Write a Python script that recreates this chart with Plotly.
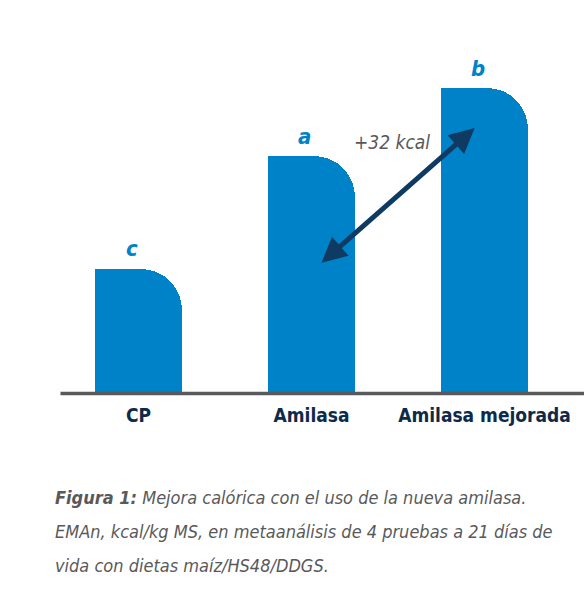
import plotly.graph_objects as go

categories = ["CP", "Amilasa", "Amilasa mejorada"]
values = [3158, 3211, 3243]          # EMAn, kcal/kg MS (estimated)
letters = ["c", "a", "b"]
base_value = 3100                     # value at the chart's baseline
diff_label = "+32 kcal"
caption_lines = [
    "<b>Figura 1:</b> Mejora calórica con el uso de la nueva amilasa.",
    "EMAn, kcal/kg MS, en metaanálisis de 4 pruebas a 21 días de",
    "vida con dietas maíz/HS48/DDGS.",
]

BLUE = "#0082C8"
NAVY = "#0F3A62"
GRAY = "#58595B"
FONT = "DejaVu Sans Condensed, Liberation Sans Narrow, sans-serif"

heights = [v - base_value for v in values]
xs = list(range(len(categories)))

fig = go.Figure()
# rounded bars
fig.add_trace(go.Bar(
    x=xs, y=heights, width=0.5,
    marker=dict(color=BLUE, line=dict(width=0), cornerradius=41),
    hoverinfo="skip", showlegend=False,
))
# square off the top-left corner
fig.add_trace(go.Bar(
    x=xs, y=heights, width=0.26, offset=-0.25,
    marker=dict(color=BLUE, line=dict(width=0)),
    hoverinfo="skip", showlegend=False,
))

annotations = []
for i, (h, l) in enumerate(zip(heights, letters)):
    annotations.append(dict(
        x=i - 0.04, y=h, xref="x", yref="y", text=f"<b><i>{l}</i></b>",
        showarrow=False, yshift=20, font=dict(family=FONT, size=22, color=BLUE),
    ))

# double arrow between Amilasa and Amilasa mejorada
annotations.append(dict(
    x=1.943, y=124.2, ax=1.049, ay=60.2, xref="x", yref="y", axref="x", ayref="y",
    text="", showarrow=True, arrowhead=2, startarrowhead=2, arrowside="end+start",
    arrowsize=1.0, startarrowsize=1.0, arrowwidth=5, arrowcolor=NAVY,
    standoff=0, startstandoff=0,
))
annotations.append(dict(
    x=1.464, y=117.5, xref="x", yref="y", text=f"<i>{diff_label}</i>", showarrow=False,
    font=dict(family=FONT, size=19, color=GRAY),
))

H, T, B, L, R = 604, 40, 212, 51.5, 13
plot_h = H - T - B
plot_w = 584 - L - R
cap_y = [497, 531, 565]
for k, line in enumerate(caption_lines):
    annotations.append(dict(
        x=(53 - L) / plot_w, y=(H - B - cap_y[k]) / plot_h, xref="paper", yref="paper",
        text=f"<i>{line}</i>", showarrow=False, xanchor="left", yanchor="middle",
        font=dict(family=FONT, size=18, color=GRAY),
    ))

fig.update_layout(
    width=584, height=604,
    margin=dict(l=L, r=R, t=T, b=B, autoexpand=False),
    paper_bgcolor="white", plot_bgcolor="white",
    barmode="overlay", bargap=0,
    xaxis=dict(
        range=[-0.5, 2.5], tickmode="array", tickvals=xs,
        ticktext=[f"<b>{c}</b>" for c in categories], showgrid=False, zeroline=False,
        showline=False, ticks="", ticklabelstandoff=10, automargin=False,
        tickfont=dict(family=FONT, size=19, color="#0D2A4A"), fixedrange=True,
    ),
    yaxis=dict(range=[0, plot_h * 32 / 68], visible=False, fixedrange=True, automargin=False),
    annotations=annotations,
    shapes=[dict(
        type="line", xref="paper", yref="paper",
        x0=(60 - L) / plot_w, x1=(584 - L) / plot_w, y0=-1.6 / plot_h, y1=-1.6 / plot_h,
        line=dict(color=GRAY, width=3.5),
    )],
    showlegend=False,
)

fig.write_html("out.html")
